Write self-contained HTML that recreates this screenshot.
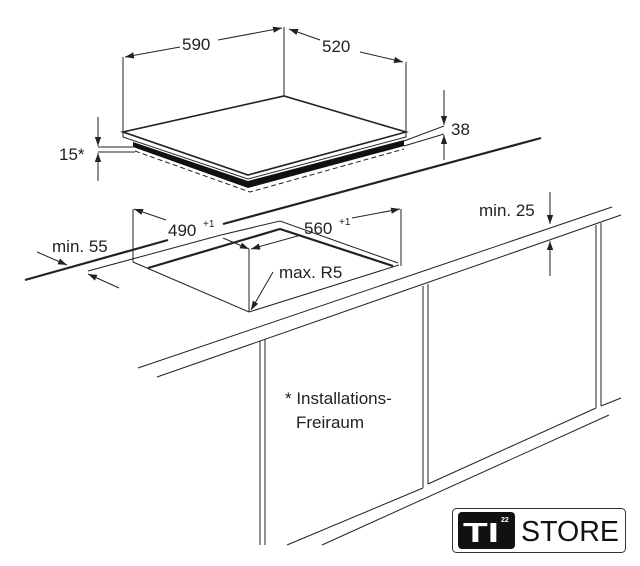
<!DOCTYPE html>
<html><head><meta charset="utf-8"><style>
html,body{margin:0;padding:0;background:#fff;}
svg{display:block}
text{font-family:"Liberation Sans",sans-serif;fill:#222;}
</style></head><body>
<svg width="640" height="566" viewBox="0 0 640 566" xmlns="http://www.w3.org/2000/svg">
<defs>
<marker id="a" viewBox="0 0 10 10" refX="10" refY="5" markerWidth="9" markerHeight="9" markerUnits="userSpaceOnUse" orient="auto"><path d="M0,1.5 L10,5 L0,8.5 Z" fill="#222"/></marker>
</defs>
<g stroke="#222" fill="none" stroke-width="1">
<polygon points="123,132 284,96 406,132 248,175" fill="#fff" stroke-width="1.6"/>
<polyline points="123,132 123,137 248,179 406,137 406,132"/>
<polygon points="133,142 248,181 404,140 404,146 248,188 133,147" fill="#111" stroke="none"/>
<polyline points="135,151 250,192 404,149" stroke-dasharray="5,3"/>
<line x1="123" y1="57" x2="123" y2="132"/>
<line x1="284" y1="27" x2="284" y2="96"/>
<line x1="406" y1="62" x2="406" y2="132"/>
<line x1="180" y1="47" x2="125" y2="57" marker-end="url(#a)"/>
<line x1="218" y1="40" x2="282" y2="28" marker-end="url(#a)"/>
<line x1="320" y1="40" x2="289" y2="29" marker-end="url(#a)"/>
<line x1="360" y1="52" x2="403" y2="62" marker-end="url(#a)"/>
<line x1="404" y1="141" x2="444" y2="126"/>
<line x1="404" y1="146" x2="444" y2="134"/>
<line x1="444" y1="90" x2="444" y2="125" marker-end="url(#a)"/>
<line x1="444" y1="160" x2="444" y2="135" marker-end="url(#a)"/>
<line x1="98" y1="147" x2="133" y2="147"/>
<line x1="98" y1="152" x2="135" y2="152"/>
<line x1="98" y1="117" x2="98" y2="146" marker-end="url(#a)"/>
<line x1="98" y1="181" x2="98" y2="153" marker-end="url(#a)"/>
<line x1="541" y1="138" x2="223" y2="224" stroke-width="2.2"/>
<line x1="168" y1="240" x2="25" y2="280" stroke-width="2.2"/>
<line x1="88" y1="271" x2="221" y2="235"/>
<line x1="37" y1="252" x2="67" y2="265" marker-end="url(#a)"/>
<line x1="119" y1="288" x2="88" y2="274" marker-end="url(#a)"/>
<polyline points="221,235 280,221 398,263"/>
<polyline points="148,268 280,229 393,266" stroke-width="2.2"/>
<line x1="133" y1="209" x2="133" y2="262"/>
<line x1="401" y1="209" x2="401" y2="266"/>
<line x1="249" y1="249" x2="249" y2="312"/>
<polyline points="133,262 249,312 399,265"/>
<line x1="166" y1="220" x2="134" y2="209" marker-end="url(#a)"/>
<line x1="223" y1="238" x2="249" y2="249" marker-end="url(#a)"/>
<line x1="301" y1="235" x2="251" y2="249" marker-end="url(#a)"/>
<line x1="352" y1="218" x2="400" y2="209" marker-end="url(#a)"/>
<line x1="273" y1="272" x2="251" y2="310" marker-end="url(#a)"/>
<line x1="138" y1="368" x2="612" y2="207"/>
<line x1="157" y1="377" x2="621" y2="215"/>
<line x1="550" y1="192" x2="550" y2="224" marker-end="url(#a)"/>
<line x1="550" y1="276" x2="550" y2="241" marker-end="url(#a)"/>
<line x1="260" y1="341" x2="260" y2="545"/>
<line x1="265" y1="339" x2="265" y2="545"/>
<line x1="423" y1="286" x2="423" y2="488"/>
<line x1="428" y1="284" x2="428" y2="484"/>
<line x1="596" y1="225" x2="596" y2="408"/>
<line x1="601" y1="223" x2="601" y2="406"/>
<line x1="287" y1="545" x2="423" y2="488"/>
<line x1="428" y1="484" x2="596" y2="408"/>
<line x1="601" y1="406" x2="621" y2="398"/>
<line x1="322" y1="545" x2="609" y2="415"/>
</g>
<g font-size="17">
<rect x="180" y="34" width="38" height="20" fill="#fff"/>
<text x="182" y="50">590</text>
<text x="322" y="52">520</text>
<text x="451" y="135">38</text>
<text x="59" y="160">15*</text>
<text x="52" y="252">min. 55</text>
<text x="168" y="236">490</text>
<text x="203" y="227" font-size="10">+1</text>
<text x="304" y="234">560</text>
<text x="339" y="225" font-size="10">+1</text>
<text x="279" y="278">max. R5</text>
<text x="479" y="216">min. 25</text>
<text x="285" y="404">* Installations-</text>
<text x="296" y="428">Freiraum</text>
</g>
<rect x="452.5" y="508.5" width="173" height="44" rx="4" fill="#fff" stroke="#333" stroke-width="1"/>
<rect x="458" y="512" width="57" height="37" rx="4" fill="#111"/>
<text x="463" y="542" font-size="28" font-weight="bold" style="fill:#fff" textLength="36" lengthAdjust="spacingAndGlyphs">TI</text>
<text x="501" y="522" font-size="7" font-weight="bold" style="fill:#fff">22</text>
<text x="521" y="541" font-size="29" style="fill:#111" textLength="98" lengthAdjust="spacingAndGlyphs">STORE</text>
</svg>
</body></html>
